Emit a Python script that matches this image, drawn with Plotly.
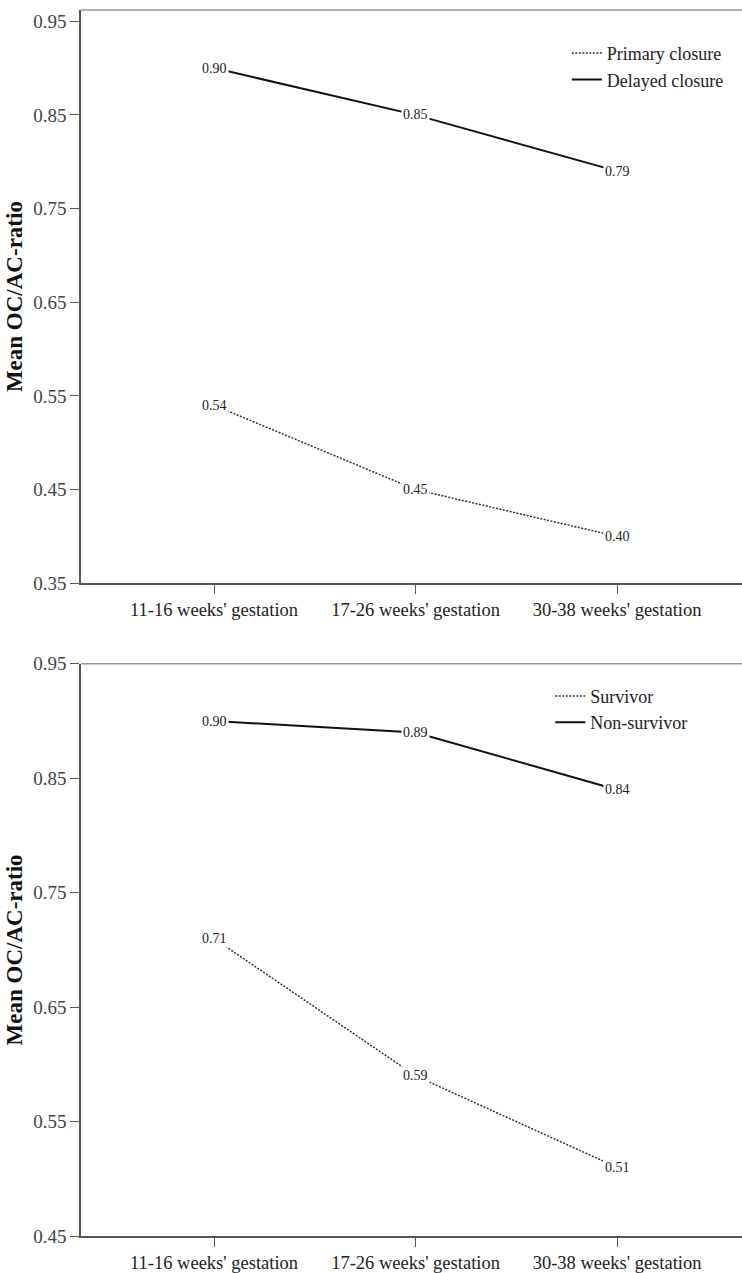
import plotly.graph_objects as go

categories = ["11-16 weeks' gestation", "17-26 weeks' gestation", "30-38 weeks' gestation"]
primary = [0.54, 0.45, 0.40]
delayed = [0.90, 0.85, 0.79]
survivor = [0.71, 0.59, 0.51]
nonsurvivor = [0.90, 0.89, 0.84]
yticks_top = [0.35, 0.45, 0.55, 0.65, 0.75, 0.85, 0.95]
yticks_bot = [0.45, 0.55, 0.65, 0.75, 0.85, 0.95]

W, H = 742, 1273
mt, mb, ml, mr = 4, 37, 81, 0
ph = H - mt - mb

def frac(px_top):
    return (H - mb - px_top) / ph

fig = go.Figure()
SERIF = "Liberation Serif, Times New Roman, serif"
AX = "#555555"

x_idx = [0, 1, 2]
DOT = "2px,1.5px"

fig.add_trace(go.Scatter(x=x_idx, y=primary, mode="lines", name="Primary closure",
                         line=dict(color="#333333", width=1.5, dash=DOT),
                         xaxis="x", yaxis="y", legend="legend"))
fig.add_trace(go.Scatter(x=x_idx, y=delayed, mode="lines", name="Delayed closure",
                         line=dict(color="#111111", width=2),
                         xaxis="x", yaxis="y", legend="legend"))
fig.add_trace(go.Scatter(x=x_idx, y=survivor, mode="lines", name="Survivor",
                         line=dict(color="#333333", width=1.5, dash=DOT),
                         xaxis="x2", yaxis="y2", legend="legend2"))
fig.add_trace(go.Scatter(x=x_idx, y=nonsurvivor, mode="lines", name="Non-survivor",
                         line=dict(color="#111111", width=2),
                         xaxis="x2", yaxis="y2", legend="legend2"))

annotations = []
for xs, ys, xr, yr in [(x_idx, primary, "x", "y"), (x_idx, delayed, "x", "y"),
                       (x_idx, survivor, "x2", "y2"), (x_idx, nonsurvivor, "x2", "y2")]:
    for xv, yv in zip(xs, ys):
        annotations.append(dict(x=xv, y=yv, xref=xr, yref=yr, text=f"{yv:.2f}",
                                showarrow=False, bgcolor="white", borderpad=1,
                                font=dict(family=SERIF, size=14, color="#222222")))

xr = [-0.66, 2.62]
common_x = dict(range=xr, tickmode="array", tickvals=x_idx, ticktext=categories,
                showline=True, linecolor=AX, linewidth=1.5, ticks="outside", ticklen=9,
                tickcolor=AX, showgrid=False, zeroline=False, ticklabelstandoff=0,
                tickfont=dict(family=SERIF, size=18.5, color="#222222"))
common_y = dict(showline=True, linecolor=AX, linewidth=1.5, ticks="outside", ticklen=9,
                tickcolor=AX, showgrid=False, zeroline=False, tickformat=".2f",
                tickfont=dict(family=SERIF, size=19, color="#444444"),
                title=dict(text="<b>Mean OC/AC-ratio</b>", font=dict(family=SERIF, size=23, color="#111111"),
                           standoff=4))

legend_font = dict(family=SERIF, size=18, color="#222222")
fig.update_layout(
    width=W, height=H, margin=dict(t=mt, b=mb, l=ml, r=mr),
    plot_bgcolor="white", paper_bgcolor="white",
    xaxis=dict(**common_x, domain=[0, 1], anchor="y"),
    yaxis=dict(**common_y, domain=[frac(580), 1.0], range=[0.35, 0.962], tickvals=yticks_top, anchor="x"),
    xaxis2=dict(**common_x, domain=[0, 1], anchor="y2"),
    yaxis2=dict(**common_y, domain=[0, frac(661)], range=[0.45, 0.95], tickvals=yticks_bot, anchor="x2"),
    legend=dict(x=0.735, y=frac(29), xanchor="left", yanchor="top", bgcolor="rgba(0,0,0,0)",
                font=legend_font, tracegroupgap=0, itemwidth=30),
    legend2=dict(x=0.71, y=frac(675), xanchor="left", yanchor="top", bgcolor="rgba(0,0,0,0)",
                 font=legend_font, tracegroupgap=0, itemwidth=30),
    annotations=annotations,
    shapes=[
        dict(type="line", xref="x domain", yref="y domain", x0=0, x1=1, y0=1, y1=1,
             line=dict(color="#999999", width=1.5)),
        dict(type="line", xref="x2 domain", yref="y2 domain", x0=0, x1=1, y0=1, y1=1,
             line=dict(color="#999999", width=1.5)),
    ],
    showlegend=True,
)

fig.write_html("out.html")
